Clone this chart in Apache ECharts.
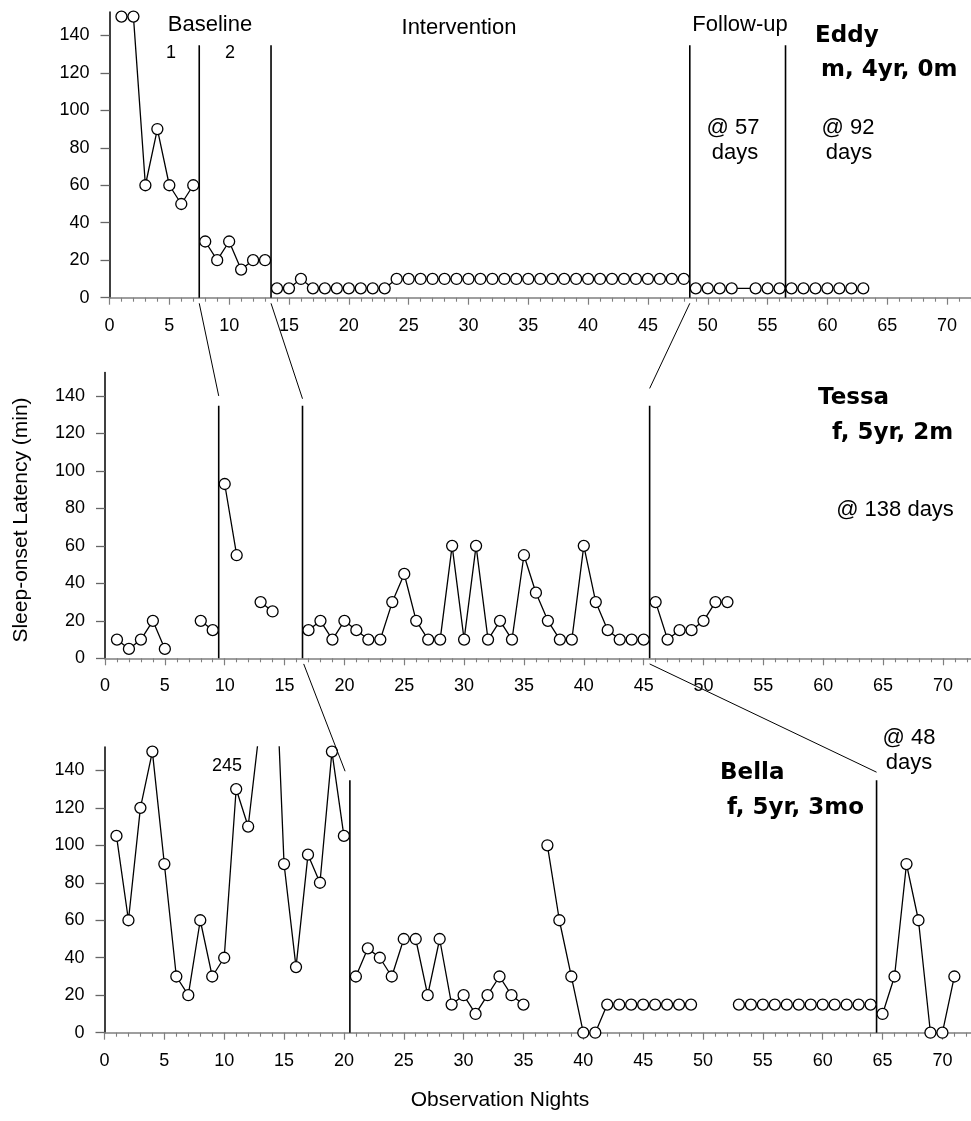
<!DOCTYPE html>
<html>
<head>
<meta charset="utf-8">
<script src="https://cdn.jsdelivr.net/npm/echarts@6/dist/echarts.min.js"></script>
<style>
html,body{margin:0;padding:0;background:#fff;}
#chart{width:971px;height:1121px;}
</style>
</head>
<body>
<div id="chart"></div>
<script>
// ---------- tick labels ----------
const yTickValues = [0, 20, 40, 60, 80, 100, 120, 140];
const xTickStep = 5;

// ---------- Eddy (m, 4yr, 0m) ----------
const eddyBaseline1Start = 1;
const eddyBaseline1 = [150, 150, 60, 90, 60, 50, 60];
const eddyBaseline2Start = 8;
const eddyBaseline2 = [30, 20, 30, 15, 20, 20];
const eddyInterventionStart = 14;
const eddyIntervention = [5, 5, 10, 5, 5, 5, 5, 5, 5, 5,
  10, 10, 10, 10, 10, 10, 10, 10, 10, 10, 10, 10, 10, 10, 10, 10, 10, 10, 10, 10, 10, 10, 10, 10, 10];
const eddyFollowUp1Days = [49, 50, 51, 52, 54, 55, 56];
const eddyFollowUp1 = [5, 5, 5, 5, 5, 5, 5];
const eddyFollowUp2Start = 57;
const eddyFollowUp2 = [5, 5, 5, 5, 5, 5, 5];
const eddyPhaseLines = [7.5, 13.5, 48.5, 56.5];

// ---------- Tessa (f, 5yr, 2m) ----------
const tessaBaseline1Start = 1;
const tessaBaseline1 = [10, 5, 10, 20, 5, null, null, 20, 15];
const tessaBaseline2Start = 10;
const tessaBaseline2 = [93, 55, null, 30, 25];
const tessaInterventionStart = 17;
const tessaIntervention = [15, 20, 10, 20, 15, 10, 10, 30, 45, 20, 10, 10, 60, 10, 60,
  10, 20, 10, 55, 35, 20, 10, 10, 60, 30, 15, 10, 10, 10];
const tessaFollowUpStart = 46;
const tessaFollowUp = [30, 10, 15, 15, 20, 30, 30];
const tessaPhaseLines = [9.5, 16.5, 45.5];

// ---------- Bella (f, 5yr, 3mo) ----------
const bellaBaselineStart = 1;
const bellaBaseline = [105, 60, 120, 150, 90, 30, 20, 60, 30, 40, 130, 110, 165, 245, 90, 35, 95, 80, 150, 105];
const bellaInterventionStart = 21;
const bellaIntervention = [30, 45, 40, 30, 50, 50, 20, 50, 15, 20, 10, 20, 30, 20, 15, null,
  100, 60, 30, 0, 0,
  15, 15, 15, 15, 15, 15, 15, 15,
  null, null, null,
  15, 15, 15, 15, 15, 15, 15, 15, 15, 15, 15, 15];
const bellaFollowUpStart = 65;
const bellaFollowUp = [10, 30, 90, 60, 0, 0, 30];
const bellaPhaseLines = [20.5, 64.5];

// ---------- helpers ----------
function seq(start, values) {
  return values.map((v, i) => [start + i, v === null ? '-' : v]);
}
function pairs(days, values) {
  return days.map((d, i) => [d, values[i] === null ? '-' : values[i]]);
}

const FONT = "'Liberation Sans', Arial, sans-serif";
const BOLD = "'DejaVu Sans', sans-serif";
const Y_MAX = 152.5;
const X_MAX = 75;          // axis runs off the right edge of the canvas
const PHASE_TOP = 134.7;

const grids = [
  { left: 109.5, top: 11.9, width: 11.965 * X_MAX, height: 285.8, outerBoundsMode: 'none', containLabel: false },
  { left: 105, top: 372.5, width: 11.97 * X_MAX, height: 285.8, outerBoundsMode: 'none', containLabel: false },
  { left: 104.5, top: 746.9, width: 11.97 * X_MAX, height: 285.8, outerBoundsMode: 'none', containLabel: false }
];

function xAxisFor(i) {
  return {
    gridIndex: i, type: 'value', min: 0, max: X_MAX, interval: xTickStep,
    axisLine: { show: true, onZero: false, lineStyle: { color: '#7f7f7f', width: 1.5 } },
    axisTick: { show: true, length: 7, lineStyle: { color: '#7f7f7f', width: 1.2 } },
    minorTick: { show: true, splitNumber: 5, length: 4, lineStyle: { color: '#7f7f7f', width: 1.1 } },
    splitLine: { show: false }, minorSplitLine: { show: false },
    axisLabel: { show: true, margin: 19, fontSize: 18, fontFamily: FONT, color: '#000', hideOverlap: false }
  };
}
function yAxisFor(i) {
  return {
    gridIndex: i, type: 'value', min: 0, max: Y_MAX, interval: 20,
    axisLine: { show: true, lineStyle: { color: '#000', width: 1.5 } },
    axisTick: { show: true, length: 9, customValues: yTickValues, lineStyle: { color: '#666', width: 1.3 } },
    splitLine: { show: false },
    axisLabel: { show: true, margin: 20, fontSize: 18, fontFamily: FONT, color: '#000', customValues: yTickValues }
  };
}

function dataSeries(g, data) {
  return {
    type: 'line', xAxisIndex: g, yAxisIndex: g, data: data,
    symbol: 'circle', symbolSize: 11, showSymbol: true, connectNulls: false, clip: true,
    itemStyle: { color: '#fff', borderColor: '#000', borderWidth: 1.3 },
    lineStyle: { color: '#000', width: 1.3 },
    z: 3, animation: false, silent: true
  };
}
function phaseSeries(g, x) {
  return {
    type: 'line', xAxisIndex: g, yAxisIndex: g, data: [[x, 0], [x, PHASE_TOP]],
    symbol: 'none', lineStyle: { color: '#000', width: 1.6 }, z: 2, animation: false, silent: true
  };
}

const series = [];
eddyPhaseLines.forEach(x => series.push(phaseSeries(0, x)));
tessaPhaseLines.forEach(x => series.push(phaseSeries(1, x)));
bellaPhaseLines.forEach(x => series.push(phaseSeries(2, x)));

series.push(dataSeries(0, seq(eddyBaseline1Start, eddyBaseline1)));
series.push(dataSeries(0, seq(eddyBaseline2Start, eddyBaseline2)));
series.push(dataSeries(0, seq(eddyInterventionStart, eddyIntervention)));
series.push(dataSeries(0, pairs(eddyFollowUp1Days, eddyFollowUp1)));
series.push(dataSeries(0, seq(eddyFollowUp2Start, eddyFollowUp2)));

series.push(dataSeries(1, seq(tessaBaseline1Start, tessaBaseline1)));
series.push(dataSeries(1, seq(tessaBaseline2Start, tessaBaseline2)));
series.push(dataSeries(1, seq(tessaInterventionStart, tessaIntervention)));
series.push(dataSeries(1, seq(tessaFollowUpStart, tessaFollowUp)));

series.push(dataSeries(2, seq(bellaBaselineStart, bellaBaseline)));
series.push(dataSeries(2, seq(bellaInterventionStart, bellaIntervention)));
series.push(dataSeries(2, seq(bellaFollowUpStart, bellaFollowUp)));

const chart = echarts.init(document.getElementById('chart'), null, { renderer: 'canvas' });
chart.setOption({
  animation: false,
  backgroundColor: '#fff',
  grid: grids,
  xAxis: [xAxisFor(0), xAxisFor(1), xAxisFor(2)],
  yAxis: [yAxisFor(0), yAxisFor(1), yAxisFor(2)],
  series: series
});

// ---------- annotations ----------
function txt(x, y, text, size, opts) {
  opts = opts || {};
  return {
    type: 'text', silent: true, z: 10,
    style: {
      x: x, y: y, text: text, fontSize: size,
      fontFamily: opts.bold ? BOLD : FONT, fontWeight: opts.bold ? 'bold' : 'normal',
      fill: '#000', align: opts.align || 'center', verticalAlign: 'middle'
    }
  };
}

const annotations = [
  txt(210, 25, 'Baseline', 22),
  txt(171, 53, '1', 18),
  txt(230, 53, '2', 18),
  txt(459, 28, 'Intervention', 22),
  txt(740, 25, 'Follow-up', 22),
  txt(815, 36, 'Eddy', 23, { bold: true, align: 'left' }),
  txt(821, 70, 'm, 4yr, 0m', 23, { bold: true, align: 'left' }),
  txt(733, 128, '@ 57', 22),
  txt(735, 153, 'days', 22),
  txt(848, 128, '@ 92', 22),
  txt(849, 153, 'days', 22),
  txt(818, 398, 'Tessa', 23, { bold: true, align: 'left' }),
  txt(832, 433, 'f, 5yr, 2m', 23, { bold: true, align: 'left' }),
  txt(895, 510, '@ 138 days', 22),
  txt(720, 773, 'Bella', 23, { bold: true, align: 'left' }),
  txt(727, 808, 'f, 5yr, 3mo', 23, { bold: true, align: 'left' }),
  txt(909, 738, '@ 48', 22),
  txt(909, 763, 'days', 22),
  txt(227, 766, '245', 18),
  txt(500, 1100, 'Observation Nights', 21)
];
annotations.push({
  type: 'text', silent: true, z: 10,
  x: 21, y: 520, rotation: Math.PI / 2,
  style: { x: 0, y: 0, text: 'Sleep-onset Latency (min)', fontSize: 21, fontFamily: FONT,
    fill: '#000', align: 'center', verticalAlign: 'middle' }
});

// connector lines between phase changes of consecutive panels (data coordinates)
const connectors = [
  { from: [0, 7.5, -3], to: [1, 9.5, 140] },
  { from: [0, 13.5, -3], to: [1, 16.5, 138.5] },
  { from: [0, 48.5, -3], to: [1, 45.5, 144] },
  { from: [1, 16.6, -3], to: [2, 20.1, 139.5] },
  { from: [1, 45.5, -3], to: [2, 64.5, 139] }
];
connectors.forEach(c => {
  const p1 = chart.convertToPixel({ gridIndex: c.from[0] }, [c.from[1], c.from[2]]);
  const p2 = chart.convertToPixel({ gridIndex: c.to[0] }, [c.to[1], c.to[2]]);
  annotations.push({
    type: 'line', silent: true, z: 5,
    shape: { x1: p1[0], y1: p1[1], x2: p2[0], y2: p2[1] },
    style: { stroke: '#000', lineWidth: 1 }
  });
});

chart.setOption({ graphic: { elements: annotations } });
</script>
</body>
</html>
